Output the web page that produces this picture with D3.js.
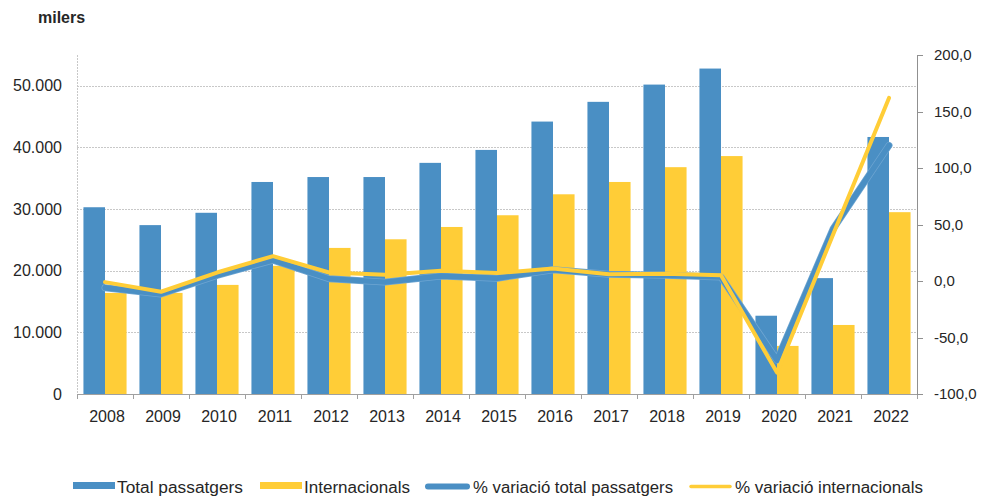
<!DOCTYPE html>
<html><head><meta charset="utf-8">
<script src="https://cdn.jsdelivr.net/npm/d3@7"></script>
<style>
body{margin:0;background:#fff;}
svg{display:block;font-family:"Liberation Sans",Arial,sans-serif;}
</style></head><body>
<svg id="c" width="981" height="497"></svg>
<script>
const years = ["2008","2009","2010","2011","2012","2013","2014","2015","2016","2017","2018","2019","2020","2021","2022"];
const totalPass = [30300,27400,29400,34400,35200,35200,37500,39600,44200,47400,50200,52800,12700,18800,41700];
const internac = [16400,16400,17700,20800,23700,25100,27100,29000,32400,34400,36800,38600,7800,11200,29500];
const varTotal = [-6,-11.5,5,18.5,2,-1,4.5,2.5,10,6,5,3.5,-70,46,120];
const varInt = [-1,-9.5,7.5,22,7.5,5.5,9,7,11,6,6.5,5,-81,41,162];
const leftTicks = [0,10000,20000,30000,40000,50000];
const rightTicks = [-100,-50,0,50,100,150,200];

const blue = "#4a8fc4", yellow = "#ffcd37";
const svg = d3.select("#c");
const L = 77, R = 917, T = 55, B = 394;

const x = d3.scaleBand().domain(years).range([L, R]).paddingInner(0.23).paddingOuter(0.115);
const band = d3.scaleBand().domain(years).range([L, R]);
const yL = d3.scaleLinear().domain([0, 55000]).range([B, T]);
const yR = d3.scaleLinear().domain([-100, 200]).range([B, T]);
const fmtL = d => d === 0 ? "0" : d3.format(",")(d).replace(/,/g, ".");
const fmtR = d => d3.format(".1f")(d).replace(".", ",").replace("−", "-");

// gridlines
svg.append("g").selectAll("line").data(leftTicks.filter(d => d > 0)).join("line")
  .attr("x1", L).attr("x2", R).attr("y1", d => Math.round(yL(d)) + 0.5).attr("y2", d => Math.round(yL(d)) + 0.5)
  .attr("stroke", "#c8c8c8").attr("stroke-width", 1).attr("stroke-dasharray", "2,1");

// left axis line (dotted)
svg.append("line").attr("x1", L + 0.5).attr("x2", L + 0.5).attr("y1", T).attr("y2", B)
  .attr("stroke", "#c8c8c8").attr("stroke-dasharray", "2,1");

// left tick labels
svg.append("g").selectAll("text").data(leftTicks).join("text")
  .attr("x", 62).attr("y", d => yL(d)).attr("dy", "0.35em").attr("text-anchor", "end")
  .attr("font-size", 16).attr("fill", "#262626").text(fmtL);

// bars
const bw = x.bandwidth() / 2;
svg.append("g").selectAll("rect").data(years).join("rect")
  .attr("x", d => x(d)).attr("width", bw)
  .attr("y", (d, i) => yL(totalPass[i])).attr("height", (d, i) => B - yL(totalPass[i]))
  .attr("fill", blue);
svg.append("g").selectAll("rect").data(years).join("rect")
  .attr("x", d => x(d) + bw).attr("width", bw)
  .attr("y", (d, i) => yL(internac[i])).attr("height", (d, i) => B - yL(internac[i]))
  .attr("fill", yellow);

// bottom axis
svg.append("line").attr("x1", L).attr("x2", R).attr("y1", B + 0.5).attr("y2", B + 0.5)
  .attr("stroke", "#a0a0a0");
svg.append("g").selectAll("line").data(d3.range(years.length + 1)).join("line")
  .attr("x1", i => L + i * band.bandwidth() + 0.5).attr("x2", i => L + i * band.bandwidth() + 0.5)
  .attr("y1", B).attr("y2", B + 5).attr("stroke", "#a0a0a0");
svg.append("g").selectAll("text").data(years).join("text")
  .attr("x", d => band(d) + band.bandwidth() / 2 + 2).attr("y", 422)
  .attr("text-anchor", "middle").attr("font-size", 16).attr("fill", "#262626").text(d => d);

// right axis
svg.append("line").attr("x1", R + 0.5).attr("x2", R + 0.5).attr("y1", T).attr("y2", B)
  .attr("stroke", "#909090");
svg.append("g").selectAll("line").data(rightTicks).join("line")
  .attr("x1", R).attr("x2", R + 6).attr("y1", d => Math.round(yR(d)) + 0.5).attr("y2", d => Math.round(yR(d)) + 0.5)
  .attr("stroke", "#909090");
svg.append("g").selectAll("text").data(rightTicks).join("text")
  .attr("x", 934).attr("y", d => yR(d)).attr("dy", "0.35em")
  .attr("font-size", 15).attr("fill", "#262626").text(fmtR);

// lines
const cx = d => band(d) + band.bandwidth() / 2;
const lineT = d3.line().x((d, i) => cx(years[i])).y(d => yR(d));
svg.append("path").datum(varTotal).attr("d", lineT).attr("fill", "none")
  .attr("stroke", "#6fa6d2").attr("stroke-width", 7).attr("stroke-linejoin", "round").attr("stroke-linecap", "round");
svg.append("path").datum(varTotal).attr("d", lineT).attr("fill", "none")
  .attr("stroke", blue).attr("stroke-width", 5.5).attr("stroke-linejoin", "round").attr("stroke-linecap", "round");
svg.append("path").datum(varInt).attr("d", lineT).attr("fill", "none")
  .attr("stroke", yellow).attr("stroke-width", 4).attr("stroke-linejoin", "round").attr("stroke-linecap", "round");

// title
svg.append("text").attr("x", 38).attr("y", 23).attr("font-size", 16).attr("font-weight", "bold")
  .attr("fill", "#262626").text("milers");

// legend
const lg = svg.append("g").attr("font-size", 16).attr("fill", "#262626");
const items = [
  {label: "Total passatgers", type: "rect", color: blue, s0: 73, s1: 115, t0: 117, t1: 243},
  {label: "Internacionals", type: "rect", color: yellow, s0: 260, s1: 302, t0: 304, t1: 410},
  {label: "% variació total passatgers", type: "line", color: blue, s0: 425, s1: 470, t0: 473, t1: 673},
  {label: "% variació internacionals", type: "line", color: yellow, s0: 688, s1: 733, t0: 735, t1: 923}
];
items.forEach(it => {
  if (it.type === "rect") {
    lg.append("rect").attr("x", it.s0).attr("y", 482).attr("width", it.s1 - it.s0).attr("height", 7).attr("fill", it.color);
  } else {
    lg.append("line").attr("x1", it.s0 + 3).attr("x2", it.s1 - 3).attr("y1", 486.5).attr("y2", 486.5)
      .attr("stroke", it.color).attr("stroke-width", it.color === blue ? 6 : 3.5).attr("stroke-linecap", "round");
  }
  lg.append("text").attr("x", it.t0).attr("y", 487).attr("dy", "0.35em")
    .attr("textLength", it.t1 - it.t0).attr("lengthAdjust", "spacingAndGlyphs").text(it.label);
});
</script>
</body></html>
